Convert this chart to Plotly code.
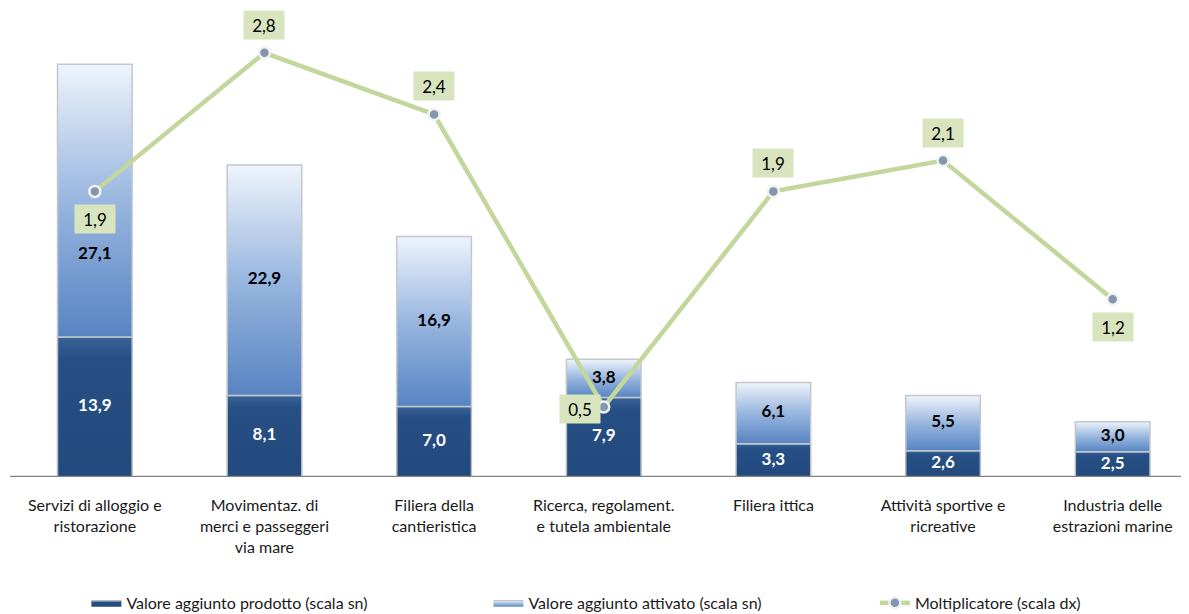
import plotly.graph_objects as go

categories = [
    "Servizi di alloggio e<br>ristorazione",
    "Movimentaz. di<br>merci e passeggeri<br>via mare",
    "Filiera della<br>cantieristica",
    "Ricerca, regolament.<br>e tutela ambientale",
    "Filiera ittica",
    "Attività sportive e<br>ricreative",
    "Industria delle<br>estrazioni marine",
]
prodotto = [13.9, 8.1, 7.0, 7.9, 3.3, 2.6, 2.5]
attivato = [27.1, 22.9, 16.9, 3.8, 6.1, 5.5, 3.0]
moltiplicatore = [1.9, 2.8, 2.4, 0.5, 1.9, 2.1, 1.2]

fmt = lambda v: f"{v:.1f}".replace(".", ",")

# label placement styles (not data)
mult_pos = ["below", "above", "above", "left", "above", "above", "below"]
upper_label_shift = [5.4, 0, 0, 0, 0, 0, 0]  # first label moved down in original

FONT = "Lato"
W = 0.44
xs = list(range(len(categories)))

fig = go.Figure()


def rect(i, y0, y1):
    return ([i - W / 2, i + W / 2, i + W / 2, i - W / 2, i - W / 2],
            [y0, y0, y1, y1, y0])


# lower segments (dark)
for i, p in enumerate(prodotto):
    rx, ry = rect(i, 0, p)
    fig.add_trace(go.Scatter(
        x=rx, y=ry, mode="lines", fill="toself",
        fillgradient=dict(type="vertical",
                          colorscale=[[0, "#234a7d"], [0.85, "#264f85"], [1, "#3a6398"]]),
        line=dict(color="#b8bcc2", width=1.5),
        name="Valore aggiunto prodotto (scala sn)",
        legendgroup="prod", showlegend=(i == 0), legend="legend",
        hoverinfo="skip",
    ))

# upper segments with vertical gradient
for i, (p, a) in enumerate(zip(prodotto, attivato)):
    rx, ry = rect(i, p, p + a)
    fig.add_trace(go.Scatter(
        x=rx, y=ry, mode="lines", fill="toself",
        fillgradient=dict(type="vertical",
                          colorscale=[[0, "#5784c2"], [0.5, "#98b6df"], [1, "#eef4fc"]]),
        line=dict(color="#c4c7cc", width=1.5),
        name="Valore aggiunto attivato (scala sn)",
        legendgroup="att", showlegend=(i == 0), legend="legend2",
        hoverinfo="skip",
    ))

# lower labels
fig.add_trace(go.Scatter(
    x=xs, y=[p / 2 for p in prodotto],
    mode="text", text=[fmt(v) for v in prodotto],
    textfont=dict(color="white", size=17, family=FONT, weight="bold"),
    showlegend=False, hoverinfo="skip",
))

# upper labels
fig.add_trace(go.Scatter(
    x=xs, y=[p + a / 2 - s for p, a, s in zip(prodotto, attivato, upper_label_shift)],
    mode="text", text=[fmt(v) for v in attivato],
    textfont=dict(color="black", size=17, family=FONT, weight="bold"),
    showlegend=False, hoverinfo="skip",
))

# multiplier line
fig.add_trace(go.Scatter(
    x=xs, y=moltiplicatore, yaxis="y2",
    mode="lines+markers",
    name="Moltiplicatore (scala dx)",
    line=dict(color="#c3d69b", width=4.5),
    marker=dict(symbol="circle", size=11, color="#8296ad",
                line=dict(color="#f2f2f2", width=2.5)),
    legend="legend3",
))

for i, (v, pos) in enumerate(zip(moltiplicatore, mult_pos)):
    xshift, yshift = 0, 0
    if pos == "above":
        yshift = 28
    elif pos == "below":
        yshift = -28
    elif pos == "left":
        xshift = -24
        yshift = -2
    fig.add_annotation(
        x=i, y=v, xref="x", yref="y2", text=fmt(v), showarrow=False,
        xshift=xshift, yshift=yshift,
        width=32, height=20, borderpad=4,
        bgcolor="#d7e4bd",
        font=dict(color="black", size=17, family=FONT),
    )

leg_common = dict(orientation="h", yref="container", y=0.031, yanchor="middle",
                  xanchor="left", font=dict(size=16, color="#1a1a1a"),
                  bgcolor="rgba(0,0,0,0)")

fig.update_layout(
    width=1189, height=614,
    margin=dict(l=2, r=8, t=2, b=145, autoexpand=False),
    paper_bgcolor="white", plot_bgcolor="white",
    font=dict(family=FONT, size=16, color="#1a1a1a"),
    xaxis=dict(
        range=[-0.5, 6.45], tickvals=xs, ticktext=categories,
        showgrid=False, zeroline=False, showline=False, ticks="",
        ticklabelstandoff=17,
        tickfont=dict(size=16, color="#1a1a1a"),
    ),
    yaxis=dict(range=[0, 46.4], visible=False, showgrid=False),
    yaxis2=dict(range=[0.045, 3.078], overlaying="y", side="right",
                visible=False, showgrid=False),
    legend=dict(x=0.0648, **leg_common),
    legend2=dict(x=0.4058, **leg_common),
    legend3=dict(x=0.7336, **leg_common),
    shapes=[dict(type="line", xref="paper", yref="y", x0=0, x1=1, y0=0, y1=0,
                 line=dict(color="#848484", width=2.5))],
    showlegend=True,
)

fig.write_html("out.html")
